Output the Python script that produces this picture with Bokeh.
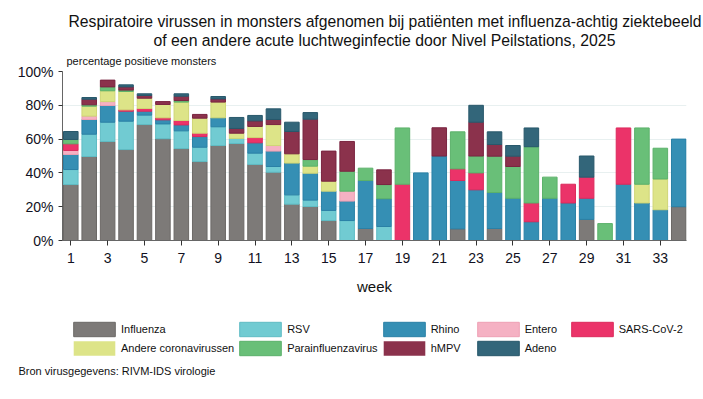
from bokeh.plotting import figure
from bokeh.layouts import column
from bokeh.models import (ColumnDataSource, Legend, LegendItem, Title, FixedTicker,
                          PrintfTickFormatter, Range1d)
from bokeh.embed import file_html
from bokeh.resources import INLINE

weeks = list(range(1, 35))
tick_weeks = list(range(1, 34, 2))

influenza = [33.1, 49.7, 58.6, 53.8, 68.6, 60.2, 54.4, 46.7, 56.2, 57.4, 45.0, 40.4, 21.5, 20.1, 11.8, 0, 7.1,
             0, 0, 0, 0, 6.9, 0, 7.1, 0, 0, 0, 0, 12.5, 0, 0, 0, 0, 20.0]
rsv = [8.9, 13.2, 11.4, 16.8, 5.6, 8.8, 10.5, 8.5, 11.1, 3.0, 6.7, 3.4, 5.5, 3.8, 6.0, 11.8, 0,
       8.3, 0, 0, 0, 0, 0, 0, 0, 0, 0, 0, 0, 0, 0, 0, 0, 0]
rhino = [8.9, 8.7, 9.9, 5.9, 2.3, 2.4, 3.5, 6.3, 5.3, 0, 6.1, 9.1, 18.8, 15.9, 11.4, 11.5, 28.4,
         16.4, 0, 40.0, 50.0, 28.6, 30.0, 21.3, 25.0, 11.1, 25.0, 22.2, 12.5, 0, 33.3, 22.2, 18.2, 40.0]
entero = [2.4, 2.0, 2.3, 0, 0, 0, 0, 0, 0, 0, 0, 3.3, 0, 0, 0, 5.9, 0,
          0, 0, 0, 0, 0, 0, 0, 0, 0, 0, 0, 0, 0, 0, 0, 0, 0]
sars = [3.9, 0, 0, 0.8, 1.6, 1.2, 2.6, 2.0, 0, 0, 3.1, 0, 0, 0, 0, 0, 0,
        0, 33.3, 0, 0, 6.9, 10.0, 0, 0, 11.1, 0, 11.1, 12.5, 0, 33.3, 0, 0, 0]
corona = [0, 5.9, 6.4, 10.9, 6.1, 7.9, 10.9, 8.9, 9.3, 3.1, 6.6, 12.4, 5.5, 4.2, 5.9, 0, 0,
          0, 0, 0, 0, 0, 0, 0, 0, 0, 0, 0, 0, 0, 0, 11.1, 18.2, 0]
para = [2.6, 0.8, 2.3, 0.8, 0, 0, 0.9, 0, 0, 0, 0, 0, 0, 3.9, 0, 11.8, 7.3,
        8.4, 33.3, 0, 0, 21.9, 10.0, 21.5, 18.8, 33.3, 12.5, 0, 0, 10.0, 0, 33.3, 18.2, 0]
hmpv = [0, 3.3, 4.0, 1.9, 1.6, 1.7, 2.6, 2.2, 1.9, 2.8, 3.3, 3.0, 13.2, 23.9, 17.8, 17.6, 0,
        8.7, 0, 0, 16.7, 0, 20.0, 6.9, 6.1, 0, 0, 0, 0, 0, 0, 0, 0, 0]
adeno = [4.7, 1.0, 0, 1.2, 1.0, 0, 1.4, 0, 1.4, 6.5, 3.2, 6.3, 5.5, 3.9, 0, 0, 0,
         0, 0, 0, 0, 0, 10.0, 7.5, 6.3, 11.1, 0, 0, 12.5, 0, 0, 0, 0, 0]

keys = ["influenza", "rsv", "rhino", "entero", "sars", "corona", "para", "hmpv", "adeno"]
labels = ["Influenza", "RSV", "Rhino", "Entero", "SARS-CoV-2", "Andere coronavirussen",
          "Parainfluenzavirus", "hMPV", "Adeno"]
series = [influenza, rsv, rhino, entero, sars, corona, para, hmpv, adeno]
fill_colors = ["#7d7a78", "#71cbd2", "#358fb4", "#f5b1c3", "#eb3369", "#dde488",
               "#69bf78", "#8b324c", "#33667a"]
line_colors = ["#6c6967", "#5fbcc4", "#2a80a6", "#eea1b4", "#dc2a5c", "#cfd676",
               "#5bb16a", "#7a2440", "#28586b"]

data = {"week": weeks}
for k, vals in zip(keys, series):
    data[k] = vals
    data["la_" + k] = [1.0 if v > 0 else 0.0 for v in vals]
src = ColumnDataSource(data)

FONT = "Liberation Sans"

# ---------------- main chart ----------------
p = figure(frame_width=624, frame_height=169, x_range=Range1d(0.55, 34.42), y_range=Range1d(0, 100),
           output_backend="svg", toolbar_location=None, title=None,
           min_border_left=62, min_border_right=17, min_border_top=71, min_border_bottom=62)

rends = p.vbar_stack(keys, x="week", width=0.79, source=src,
                     fill_color=fill_colors, line_color=line_colors,
                     line_alpha=["la_" + k for k in keys], line_width=1)

p.outline_line_color = None
p.xgrid.grid_line_color = None
p.ygrid.grid_line_color = "#e8f0f0"
p.ygrid.grid_line_width = 1

p.xaxis.ticker = FixedTicker(ticks=tick_weeks)
p.yaxis.ticker = FixedTicker(ticks=[0, 20, 40, 60, 80, 100])
p.yaxis.formatter = PrintfTickFormatter(format="%d%%")
for ax in (p.xaxis, p.yaxis):
    ax.axis_line_color = "#666666"
    ax.major_tick_line_color = "#333333"
    ax.major_tick_in = 0
    ax.minor_tick_line_color = None
    ax.major_label_text_font = FONT
    ax.major_label_text_font_size = "14px"
    ax.major_label_text_color = "#111122"
p.xaxis.major_tick_out = 5
p.yaxis.major_tick_out = 4
p.xaxis.major_label_standoff = 7
p.yaxis.major_label_standoff = 5
p.xaxis.axis_label = "week"
p.xaxis.axis_label_text_font = FONT
p.xaxis.axis_label_text_font_size = "15px"
p.xaxis.axis_label_text_font_style = "normal"
p.xaxis.axis_label_text_color = "#111111"
p.xaxis.axis_label_standoff = 12

# titles above (first added is closest to the frame)
p.add_layout(Title(text="percentage positieve monsters", align="left", offset=4,
                   text_font=FONT, text_font_size="11px", text_font_style="normal",
                   text_color="#111111", standoff=9), "above")
p.add_layout(Title(text="of een andere acute luchtweginfectie door Nivel Peilstations, 2025",
                   align="left", offset=91, text_font=FONT, text_font_size="15.8px",
                   text_font_style="normal", text_color="#111111", standoff=0), "above")
p.add_layout(Title(text="Respiratoire virussen in monsters afgenomen bij patiënten met influenza-achtig ziektebeeld",
                   align="left", offset=6, text_font=FONT, text_font_size="15.7px",
                   text_font_style="normal", text_color="#111111", standoff=0), "above")

# ---------------- legend + source strip ----------------
q = figure(frame_width=624, frame_height=58, x_range=Range1d(100, 101), y_range=Range1d(1000, 1001),
           output_backend="svg", toolbar_location=None, title=None,
           x_axis_location=None, y_axis_location=None,
           min_border_left=62, min_border_right=17, min_border_top=0, min_border_bottom=33)
q.outline_line_color = None
q.xgrid.grid_line_color = None
q.ygrid.grid_line_color = None
q_rends = q.vbar_stack(keys, x="week", width=0.79, source=src,
                       fill_color=fill_colors, line_color=line_colors,
                       line_alpha=["la_" + k for k in keys], line_width=1)
for r in q_rends:
    r.visible = False

items = [LegendItem(label=lab, renderers=[r]) for lab, r in zip(labels, q_rends)]
legend = Legend(items=items, ncols=5, nrows=2, orientation="horizontal",
                location=(6, 3), margin=0, padding=0, spacing=0,
                glyph_width=52, glyph_height=18, label_standoff=1,
                label_width=41, label_height=19,
                label_text_font=FONT, label_text_font_size="11px", label_text_color="#111111",
                inactive_fill_alpha=0,
                border_line_color=None, background_fill_alpha=0)
q.add_layout(legend, "center")

q.add_layout(Title(text="Bron virusgegevens: RIVM-IDS virologie", align="left", offset=-44,
                   text_font=FONT, text_font_size="11px", text_font_style="normal",
                   text_color="#111111", standoff=5), "below")

layout = column(p, q, spacing=0)

open("out.html", "w").write(file_html(layout, INLINE))
